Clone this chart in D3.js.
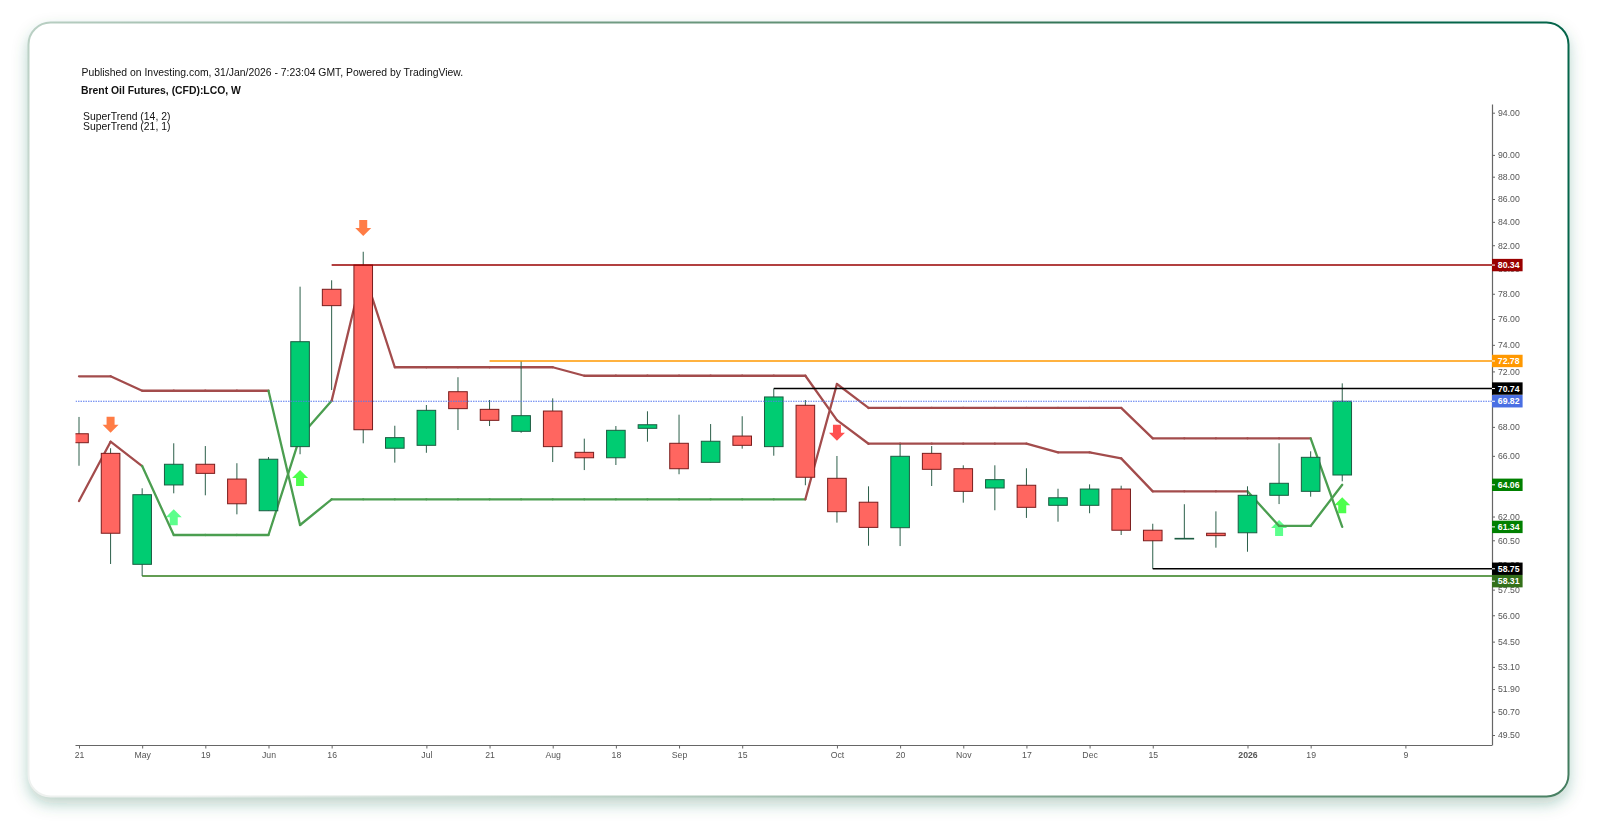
<!DOCTYPE html><html><head><meta charset="utf-8"><script src="https://cdn.jsdelivr.net/npm/d3@7"></script>
<style>html,body{margin:0;background:#fff}svg{display:block}text{font-family:"Liberation Sans",Arial,sans-serif}</style></head><body>
<svg id="c" width="1600" height="832"></svg>
<script>
// ---- data ----
const publishedText = "Published on Investing.com, 31/Jan/2026 - 7:23:04 GMT, Powered by TradingView.";
const titleText = "Brent Oil Futures, (CFD):LCO, W";
const legendLabels = ["SuperTrend (14, 2)", "SuperTrend (21, 1)"];

const opens  = [67.52,66.17,59.02,64.05,65.43,64.44,62.37,66.63,78.36,80.34,66.52,66.72,70.51,69.24,67.69,69.12,66.24,65.87,67.90,66.86,65.56,67.36,66.63,69.53,64.49,62.92,61.29,66.17,65.13,63.85,64.03,62.72,62.72,63.78,61.13,60.58,60.94,60.97,63.37,63.63,64.71];
const highs  = [68.70,66.52,63.83,66.86,66.67,65.50,65.92,78.57,79.09,81.45,68.08,69.55,71.57,69.91,72.78,70.03,67.18,68.06,69.10,68.86,68.20,68.75,70.74,69.91,65.99,63.96,66.81,66.67,65.36,65.36,65.16,63.80,64.09,64.00,61.54,62.79,62.33,63.96,66.86,66.31,71.12];
const lows   = [65.33,59.04,58.31,63.50,63.37,62.14,62.37,66.11,70.63,66.86,65.54,66.21,67.78,68.06,67.59,65.58,65.04,65.38,66.97,64.76,65.56,66.49,66.01,64.03,61.61,60.16,60.14,63.98,62.89,62.40,61.91,61.67,62.21,60.83,58.75,60.58,60.04,59.79,62.80,63.28,64.29];
const closes = [66.90,60.94,63.41,65.43,64.82,62.82,65.77,74.24,77.05,67.80,67.25,69.17,69.29,68.46,68.79,66.63,65.87,67.76,68.15,65.13,67.00,66.72,70.13,64.56,62.31,61.31,65.97,65.09,63.63,64.40,62.59,63.21,63.78,61.13,60.47,60.62,60.79,63.37,64.16,65.90,69.82];

const st1Values = [71.64,71.64,70.58,70.58,70.58,70.58,70.58,61.46,63.11,63.11,63.11,63.11,63.11,63.11,63.11,63.11,63.11,63.11,63.11,63.11,63.11,63.11,63.11,63.11,71.07,69.34,69.34,69.34,69.34,69.34,69.34,69.34,69.34,69.34,67.20,67.20,67.20,67.20,67.20,67.20,61.34];
const st1Trend  = [0,0,0,0,0,0,0,1,1,1,1,1,1,1,1,1,1,1,1,1,1,1,1,1,0,0,0,0,0,0,0,0,0,0,0,0,0,0,0,0,1];
const st2Values = [63.00,66.97,65.31,60.83,60.83,60.83,60.83,67.32,69.86,79.93,72.31,72.31,72.31,72.31,72.31,72.31,71.68,71.68,71.68,71.68,71.68,71.68,71.68,71.68,68.48,66.83,66.83,66.83,66.83,66.83,66.83,66.24,66.24,65.83,63.63,63.63,63.63,63.63,61.40,61.40,64.06];
const st2Trend  = [0,0,0,1,1,1,1,1,1,0,0,0,0,0,0,0,0,0,0,0,0,0,0,0,0,0,0,0,0,0,0,0,0,0,0,0,0,0,1,1,1];

const markerBars   = [1,3,7,9,24,38,40];
const markerPrices = [67.59,62.46,65.04,82.78,67.04,61.78,63.24];
const markerDirs   = [-1,1,1,-1,-1,1,1];
const markerFills  = ["#ff7c45","#5cff8c","#4dff4d","#ff7c45","#ff5050","#5cff8c","#4dff4d"];

const levelPrices = [80.34,72.78,70.74,58.75,58.31];
const levelStarts = [8,13,22,34,2];
const levelColors = ["#990000","#ff9800","#000000","#000000","#2f7d1a"];
const lastPrice = 69.82;

const tagPrices = [80.34,72.78,70.74,69.82,64.06,61.34,58.75,58.31];
const tagColors = ["#990000","#ff9800","#000000","#4a6fe3","#008000","#008000","#000000","#33701a"];

const yTicks = [94,90,88,86,84,82,80,78,76,74,72,68,66,62,60.5,59,57.5,56,54.5,53.1,51.9,50.7,49.5];
const xTickBars = [0,2,4,6,8,11,13,15,17,19,21,24,26,28,30,32,34,37,39,42];
const xTickLabels = ["21","May","19","Jun","16","Jul","21","Aug","18","Sep","15","Oct","20","Nov","17","Dec","15","2026","19","9"];

// ---- scales ----
const plot = {left:75.5, right:1492, top:104.5, bottom:745.5};
const x = d3.scaleLinear().domain([0,42]).range([79.0,1405.4]);
const y = d3.scaleLog().domain([94,49.5]).range([112.7,735]);
const bodyW = 18.6;

const svg = d3.select("#c");
const defs = svg.append("defs");
const g = defs.append("linearGradient").attr("id","bd").attr("x1",0).attr("y1",0.75).attr("x2",1).attr("y2",0.35);
[[0,"#eef1ef"],[0.26,"#b9cfc3"],[0.5,"#7fa48f"],[0.7,"#5f8f73"],[0.8,"#3f7a5c"],[1,"#05654a"]]
  .forEach(s=>g.append("stop").attr("offset",s[0]).attr("stop-color",s[1]));
const f = defs.append("filter").attr("id","sh").attr("x","-5%").attr("y","-10%").attr("width","110%").attr("height","120%");
f.append("feDropShadow").attr("dx",0).attr("dy",7).attr("stdDeviation",8).attr("flood-color","#1f6b4d").attr("flood-opacity",0.32);
defs.append("clipPath").attr("id","pc").append("rect").attr("x",plot.left).attr("y",plot.top).attr("width",plot.right-plot.left).attr("height",plot.bottom-plot.top);

svg.append("rect").attr("x",28.5).attr("y",22.5).attr("width",1540).attr("height",774).attr("rx",22)
  .attr("fill","#fff").attr("filter","url(#sh)");
svg.append("rect").attr("x",28.5).attr("y",22.5).attr("width",1540).attr("height",774).attr("rx",22)
  .attr("fill","#fff").attr("stroke","url(#bd)").attr("stroke-width",2);

const root = svg.append("g").style("filter","blur(0.4px)");

// headings
root.append("text").attr("x",81.5).attr("y",76).attr("font-size",10.4).attr("fill","#111").text(publishedText);
root.append("text").attr("x",81).attr("y",94).attr("font-size",10.4).attr("font-weight","bold").attr("fill","#111").text(titleText);
root.selectAll("text.lg").data(legendLabels).join("text").attr("class","lg").attr("x",83)
  .attr("y",(d,i)=>120+i*10).attr("font-size",10.4).attr("fill","#111").text(d=>d);

// axes
const yAxis = d3.axisRight(y).tickValues(yTicks).tickFormat(d3.format(".2f")).tickSize(3).tickPadding(3).tickSizeOuter(0);
const yg = root.append("g").attr("transform",`translate(${plot.right},0)`).call(yAxis);
yg.select(".domain").attr("d",`M0.5,${plot.top}V${plot.bottom}`).attr("stroke","#666").attr("stroke-width",1.2);
yg.selectAll(".tick line").attr("stroke","#666");
yg.selectAll(".tick text").attr("font-size",8.7).attr("fill","#555").attr("font-family",'"Liberation Sans",Arial,sans-serif');

const xAxis = d3.axisBottom(x).tickValues(xTickBars).tickFormat((d,i)=>xTickLabels[i]).tickSize(3).tickPadding(3).tickSizeOuter(0);
const xg = root.append("g").attr("transform",`translate(0,${plot.bottom})`).call(xAxis);
xg.select(".domain").attr("d",`M${plot.left},0H${plot.right}`).attr("stroke","#666").attr("stroke-width",1.2);
xg.selectAll(".tick line").attr("stroke","#666");
xg.selectAll(".tick text").attr("font-size",8.7).attr("fill","#555").attr("font-family",'"Liberation Sans",Arial,sans-serif')
  .attr("font-weight",d=>d===37?"bold":"normal");

const chart = root.append("g").attr("clip-path","url(#pc)");

// markers
const mk = chart.append("g");
markerBars.forEach((b,i)=>{
  const dir = markerDirs[i];            // +1 = up arrow, tip on top
  const p = [[0,0],[8,8*dir],[4,8*dir],[4,16*dir],[-4,16*dir],[-4,8*dir],[-8,8*dir]];
  mk.append("path").attr("d",d3.line()(p)+"Z").attr("fill",markerFills[i])
    .attr("transform",`translate(${x(b)},${y(markerPrices[i])})`);
});

// SuperTrend lines, a segment takes the colour of its end point
function drawTrend(vals,trend){
  for(let i=1;i<vals.length;i++){
    chart.append("path").attr("d",d3.line().x(d=>x(d)).y(d=>y(vals[d]))([i-1,i]))
      .attr("fill","none").attr("stroke-linecap","round").attr("stroke-width",2.3)
      .attr("stroke",trend[i]?"#4b9e50":"#a34c4c");
  }
}
drawTrend(st1Values,st1Trend);
drawTrend(st2Values,st2Trend);

// candles
const idx = d3.range(opens.length);
chart.selectAll("line.w").data(idx).join("line").attr("class","w")
  .attr("x1",i=>x(i)).attr("x2",i=>x(i)).attr("y1",i=>y(highs[i])).attr("y2",i=>y(lows[i]))
  .attr("stroke","#2c5f4a").attr("stroke-width",1);
chart.selectAll("rect.b").data(idx).join("rect").attr("class","b")
  .attr("x",i=>x(i)-bodyW/2).attr("width",bodyW)
  .attr("y",i=>y(Math.max(opens[i],closes[i])))
  .attr("height",i=>Math.max(0.6,y(Math.min(opens[i],closes[i]))-y(Math.max(opens[i],closes[i]))))
  .attr("fill",i=>closes[i]>=opens[i]?"#00cc72":"#ff6660")
  .attr("stroke",i=>closes[i]>=opens[i]?"#1c5c42":"#7a1c1c").attr("stroke-width",1);

// level lines
levelPrices.forEach((p,i)=>{
  chart.append("line").attr("x1",x(levelStarts[i])).attr("x2",plot.right).attr("y1",y(p)).attr("y2",y(p))
    .attr("stroke",levelColors[i]).attr("stroke-width",1.6);
});
chart.append("line").attr("x1",plot.left).attr("x2",plot.right).attr("y1",y(lastPrice)).attr("y2",y(lastPrice))
  .attr("stroke","#5577ee").attr("stroke-width",1).attr("stroke-dasharray","1.5 1");

// price tags, pushed down when they would collide with the tag above
const tagH = 12.4;
let prevBottom = -Infinity;
const tagY = tagPrices.map(p=>{ const c = Math.max(y(p), prevBottom + tagH/2); prevBottom = c + tagH/2; return c; });
const tag = root.selectAll("g.t").data(tagPrices).join("g").attr("class","t")
  .attr("transform",(d,i)=>`translate(${plot.right},${tagY[i]})`);
tag.append("rect").attr("x",0).attr("y",-tagH/2).attr("width",30.6).attr("height",tagH).attr("fill",(d,i)=>tagColors[i]);
tag.append("line").attr("x1",0).attr("x2",3).attr("y1",0).attr("y2",0).attr("stroke","#fff");
tag.append("text").attr("x",5.8).attr("y",3.1).attr("font-size",8.7).attr("font-weight","bold").attr("fill","#fff").text(d=>d3.format(".2f")(d));
</script></body></html>
